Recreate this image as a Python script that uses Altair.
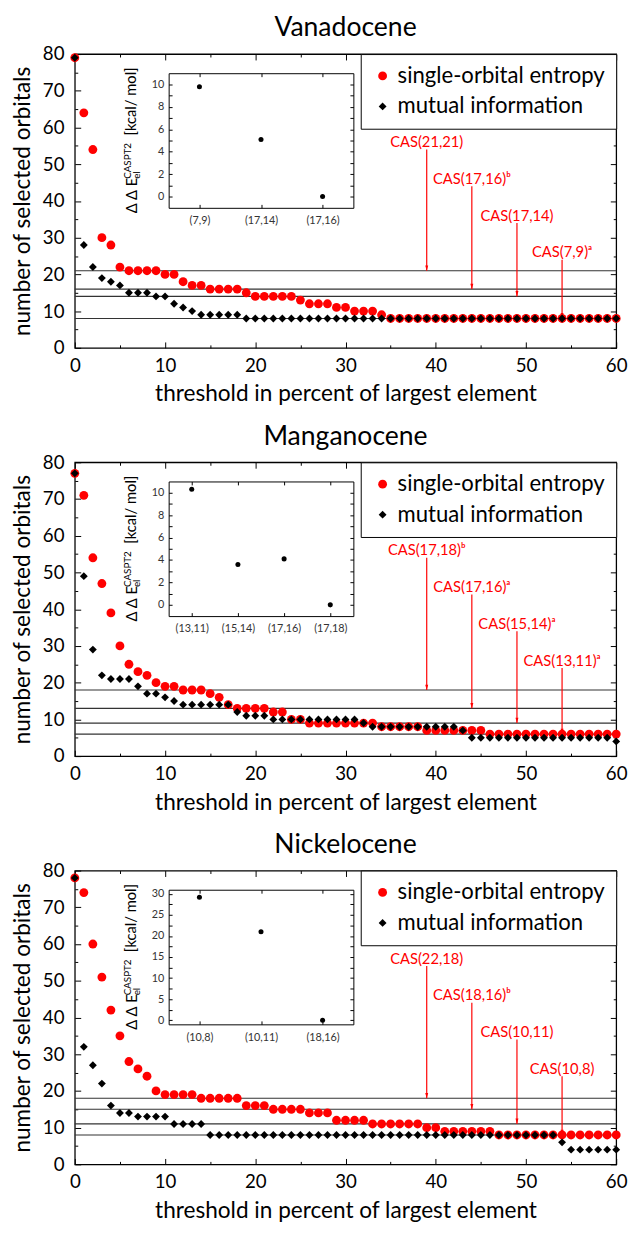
import altair as alt
import pandas as pd

# ---------------- data ----------------
thresholds = list(range(0, 61))
series_names = ["single-orbital entropy", "mutual information"]

vanadocene_entropy = [79, 64, 54, 30, 28, 22, 21, 21, 21, 21, 20, 20, 18, 17, 17, 16, 16, 16, 16, 15,
                      14, 14, 14, 14, 14, 13, 12, 12, 12, 11, 11, 10, 10, 10, 9, 8, 8, 8, 8, 8,
                      8, 8, 8, 8, 8, 8, 8, 8, 8, 8, 8, 8, 8, 8, 8, 8, 8, 8, 8, 8, 8]
vanadocene_mutual = [79, 28, 22, 19, 18, 17, 15, 15, 15, 14, 14, 12, 11, 10, 9, 9, 9, 9, 9, 8,
                     8, 8, 8, 8, 8, 8, 8, 8, 8, 8, 8, 8, 8, 8, 8, 8, 8, 8, 8, 8,
                     8, 8, 8, 8, 8, 8, 8, 8, 8, 8, 8, 8, 8, 8, 8, 8, 8, 8, 8, 8, 8]
manganocene_entropy = [77, 71, 54, 47, 39, 30, 25, 23, 22, 20, 19, 19, 18, 18, 18, 17, 16, 14, 13, 13,
                       13, 13, 12, 12, 10, 10, 9, 9, 9, 9, 9, 9, 9, 9, 8, 8, 8, 8, 8, 7,
                       7, 7, 7, 7, 7, 7, 6, 6, 6, 6, 6, 6, 6, 6, 6, 6, 6, 6, 6, 6, 6]
manganocene_mutual = [77, 49, 29, 22, 21, 21, 21, 19, 17, 17, 16, 15, 14, 14, 14, 14, 14, 14, 12, 11,
                      11, 11, 10, 10, 10, 10, 10, 10, 10, 10, 10, 10, 9, 8, 8, 8, 8, 8, 8, 8,
                      8, 8, 8, 7, 5, 5, 5, 5, 5, 5, 5, 5, 5, 5, 5, 5, 5, 5, 5, 5, 4]
nickelocene_entropy = [78, 74, 60, 51, 42, 35, 28, 26, 24, 20, 19, 19, 19, 19, 18, 18, 18, 18, 18, 16,
                       16, 16, 15, 15, 15, 15, 14, 14, 14, 12, 12, 12, 12, 11, 11, 11, 11, 11, 11, 10,
                       10, 9, 9, 9, 9, 9, 9, 8, 8, 8, 8, 8, 8, 8, 8, 8, 8, 8, 8, 8, 8]
nickelocene_mutual = [78, 32, 27, 22, 16, 14, 14, 13, 13, 13, 13, 11, 11, 11, 11, 8, 8, 8, 8, 8,
                      8, 8, 8, 8, 8, 8, 8, 8, 8, 8, 8, 8, 8, 8, 8, 8, 8, 8, 8, 8,
                      8, 8, 8, 8, 8, 8, 8, 8, 8, 8, 8, 8, 8, 8, 6, 4, 4, 4, 4, 4, 4]

vanadocene_cuts = [21, 16, 14, 8]
manganocene_cuts = [18, 13, 9, 6]
nickelocene_cuts = [18, 15, 11, 8]

vanadocene_cas = ["CAS(21,21)", "CAS(17,16)\u1d47", "CAS(17,14)", "CAS(7,9)\u1d43"]
manganocene_cas = ["CAS(17,18)\u1d47", "CAS(17,16)\u1d43", "CAS(15,14)\u1d43", "CAS(13,11)\u1d43"]
nickelocene_cas = ["CAS(22,18)", "CAS(18,16)\u1d47", "CAS(10,11)", "CAS(10,8)"]

arrow_x = [39, 44, 49, 54]
label_y = [56, 46, 36, 26]
arrow_top = [54, 44, 34, 24]

vanadocene_inset_cfg = ["(7,9)", "(17,14)", "(17,16)"]
vanadocene_inset_de = [9.8, 5.1, 0.0]
manganocene_inset_cfg = ["(13,11)", "(15,14)", "(17,16)", "(17,18)"]
manganocene_inset_de = [10.3, 3.6, 4.1, 0.0]
nickelocene_inset_cfg = ["(10,8)", "(10,11)", "(18,16)"]
nickelocene_inset_de = [29.2, 21.0, 0.0]

# ---------------- layout / style ----------------
W, H = 551, 299
IX0, IX1, IY0, IY1 = 95.5, 283.5, 19.5, 156.5
RED = "#ff0000"
FONT = "Lato"
dummy = pd.DataFrame({"t": [0], "n": [0]})


def xs():
    return alt.Scale(domain=[0, 60], nice=False, zero=False)


def ys():
    return alt.Scale(domain=[0, 80], nice=False, zero=False)


def ghost(xorient, xoff, yorient, yoff, xvals, yvals, size):
    return alt.Chart(dummy).mark_point(opacity=0).encode(
        x=alt.X("t:Q", scale=xs(), axis=alt.Axis(orient=xorient, offset=xoff, values=xvals,
                                                  labels=False, domain=False, grid=False, title=None,
                                                  tickSize=size, tickColor="black", tickWidth=1)),
        y=alt.Y("n:Q", scale=ys(), axis=alt.Axis(orient=yorient, offset=yoff, values=yvals,
                                                  labels=False, domain=False, grid=False, title=None,
                                                  tickSize=size, tickColor="black", tickWidth=1)),
    )


def inset_ghost(n, ymax, tickvals, xorient, xoff, yorient, yoff, domain):
    ixs = alt.Scale(domain=[-0.5, n - 0.5], range=[IX0, IX1], nice=False, zero=False)
    iys = alt.Scale(domain=[-1, ymax], range=[IY1, IY0], nice=False, zero=False)
    return alt.Chart(dummy).mark_point(opacity=0).encode(
        x=alt.X("t:Q", scale=ixs, axis=alt.Axis(orient=xorient, offset=xoff, values=list(range(n)),
                                                 labels=False, domain=domain, domainColor="black", grid=False,
                                                 title=None, tickSize=3.5, tickColor="black")),
        y=alt.Y("n:Q", scale=iys, axis=alt.Axis(orient=yorient, offset=yoff, values=tickvals,
                                                 labels=False, domain=domain, domainColor="black", grid=False,
                                                 title=None, tickSize=3.5, tickColor="black")),
    )


def rot_text(txt, x, y, size):
    return alt.Chart(dummy).mark_text(text=txt, angle=270, align="left", baseline="alphabetic",
                                      fontSize=size, font=FONT, color="black").encode(
        x=alt.value(x), y=alt.value(y))


def panel(title, entropy, mutual, cuts, cas, icfg, ide, iymax, ilabelvals, iticks):
    pts_df = pd.DataFrame({
        "threshold": thresholds + thresholds,
        "orbitals": entropy + mutual,
        "series": [series_names[0]] * len(thresholds) + [series_names[1]] * len(thresholds),
    })
    legend = alt.Legend(title=None, orient="top-right", offset=0, fillColor="white", strokeColor="black",
                        padding=11, labelFontSize=22.5, labelFont=FONT, labelColor="black", symbolSize=72,
                        rowPadding=8, labelOffset=4, labelLimit=500, symbolStrokeWidth=0)
    points = alt.Chart(pts_df).mark_point(filled=True, opacity=1, strokeWidth=0).encode(
        x=alt.X("threshold:Q", scale=xs(),
                axis=alt.Axis(orient="bottom", values=list(range(0, 61, 10)), ticks=False, tickSize=0,
                              domain=False, grid=False, labelFontSize=19, labelPadding=9, labelFlush=False,
                              title="threshold in percent of largest element", titleFontSize=23,
                              titlePadding=8)),
        y=alt.Y("orbitals:Q", scale=ys(),
                axis=alt.Axis(orient="left", values=list(range(0, 81, 10)), ticks=False, tickSize=0,
                              domain=False, grid=False, labelFontSize=19, labelPadding=11, labelFlush=False,
                              title="number of selected orbitals", titleFontSize=23, titlePadding=8)),
        color=alt.Color("series:N", scale=alt.Scale(domain=series_names, range=[RED, "black"]), legend=legend),
        shape=alt.Shape("series:N", scale=alt.Scale(domain=series_names, range=["circle", "diamond"]),
                        legend=legend),
        size=alt.Size("series:N", scale=alt.Scale(domain=series_names, range=[81, 64]), legend=None),
    )
    lines_df = pd.DataFrame({"level": cuts})
    hlines = alt.Chart(lines_df).mark_rule(color="#333333", strokeWidth=1.2).encode(
        y=alt.Y("level:Q", scale=ys(), axis=None))
    arr_df = pd.DataFrame({"x": arrow_x, "top": arrow_top, "level": cuts, "ly": label_y, "label": cas})
    stems = alt.Chart(arr_df).mark_rule(color=RED, strokeWidth=1.2).encode(
        x=alt.X("x:Q", scale=xs(), axis=None), y=alt.Y("top:Q", scale=ys(), axis=None), y2="level:Q")
    heads = alt.Chart(arr_df).mark_point(shape="M-0.55,-1L0.55,-1L0,1Z", filled=True, color=RED, size=30,
                                         opacity=1, strokeWidth=0, yOffset=-2.7).encode(
        x=alt.X("x:Q", scale=xs(), axis=None), y=alt.Y("level:Q", scale=ys(), axis=None))
    labels = alt.Chart(arr_df).mark_text(color=RED, fontSize=15, font=FONT, align="center",
                                         baseline="middle").encode(
        x=alt.X("x:Q", scale=xs(), axis=None), y=alt.Y("ly:Q", scale=ys(), axis=None), text="label:N")
    ititle = [
        rot_text("\u0394 \u0394 E", 63, 162, 15),
        rot_text("CASPT2", 57, 127, 10),
        rot_text("el", 66, 127, 10),
        rot_text("[kcal/ mol]", 62, 83, 15),
    ]

    n = len(icfg)
    inset_df = pd.DataFrame({"idx": list(range(n)), "config": icfg, "dE": ide})
    ixs = alt.Scale(domain=[-0.5, n - 0.5], range=[IX0, IX1], nice=False, zero=False)
    iys = alt.Scale(domain=[-1, iymax], range=[IY1, IY0], nice=False, zero=False)
    label_expr = "[" + ",".join("'" + c + "'" for c in icfg) + "][datum.value]"
    inset = alt.Chart(inset_df).mark_circle(size=26, color="black", opacity=1).encode(
        x=alt.X("idx:Q", scale=ixs,
                axis=alt.Axis(orient="bottom", offset=-(H - IY1), values=list(range(n)), labelExpr=label_expr,
                              ticks=False, tickSize=0, domain=True, domainColor="black", grid=False,
                              labelFontSize=11, labelColor="#333333", labelPadding=7, labelFlush=False,
                              title=None)),
        y=alt.Y("dE:Q", scale=iys,
                axis=alt.Axis(orient="left", offset=-IX0, values=ilabelvals, ticks=False, tickSize=0,
                              domain=True, domainColor="black", grid=False, labelFontSize=11,
                              labelColor="#333333", labelPadding=5, labelFlush=False, title=None)),
    )
    ig1 = inset_ghost(n, iymax, iticks, "top", -IY1, "right", -(W - IX0), False)
    ig2 = inset_ghost(n, iymax, iticks, "bottom", -(H - IY0), "left", -IX1, True)
    major_x = list(range(0, 61, 10))
    minor_x = list(range(5, 61, 10))
    major_y = list(range(0, 81, 10))
    minor_y = list(range(5, 81, 10))
    mg = [
        ghost("top", -H, "right", -W, major_x, major_y, 6),
        ghost("top", -H, "right", -W, minor_x, minor_y, 3),
        ghost("bottom", -H, "left", -W, major_x, major_y, 6),
        ghost("bottom", -H, "left", -W, minor_x, minor_y, 3),
    ]

    return alt.layer(hlines, stems, heads, labels, points, *ititle, inset, *mg, ig1, ig2).resolve_scale(
        x="independent", y="independent").properties(
        width=W, height=H,
        title=alt.Title(title, fontSize=27, font=FONT, fontWeight="normal", anchor="middle", frame="group",
                        offset=3, color="black"))


p1 = panel("Vanadocene", vanadocene_entropy, vanadocene_mutual, vanadocene_cuts, vanadocene_cas,
           vanadocene_inset_cfg, vanadocene_inset_de, 11, list(range(0, 11, 2)), list(range(0, 11)))
p2 = panel("Manganocene", manganocene_entropy, manganocene_mutual, manganocene_cuts, manganocene_cas,
           manganocene_inset_cfg, manganocene_inset_de, 11, list(range(0, 11, 2)), list(range(0, 11)))
p3 = panel("Nickelocene", nickelocene_entropy, nickelocene_mutual, nickelocene_cuts, nickelocene_cas,
           nickelocene_inset_cfg, nickelocene_inset_de, 31, list(range(0, 31, 5)),
           [0, 2.5, 5, 7.5, 10, 12.5, 15, 17.5, 20, 22.5, 25, 27.5, 30])

chart = alt.vconcat(p1, p2, p3, spacing=15.5).resolve_scale(
    color="independent", shape="independent", size="independent").properties(
    padding={"left": 3, "top": -5, "right": 0, "bottom": 0}).configure_view(
    stroke="black", strokeWidth=1.3).configure_axis(
    labelFont=FONT, titleFont=FONT, labelColor="black", titleColor="black", titleFontWeight="normal")

chart.save("out.html", embed_options={"renderer": "svg", "actions": False})
